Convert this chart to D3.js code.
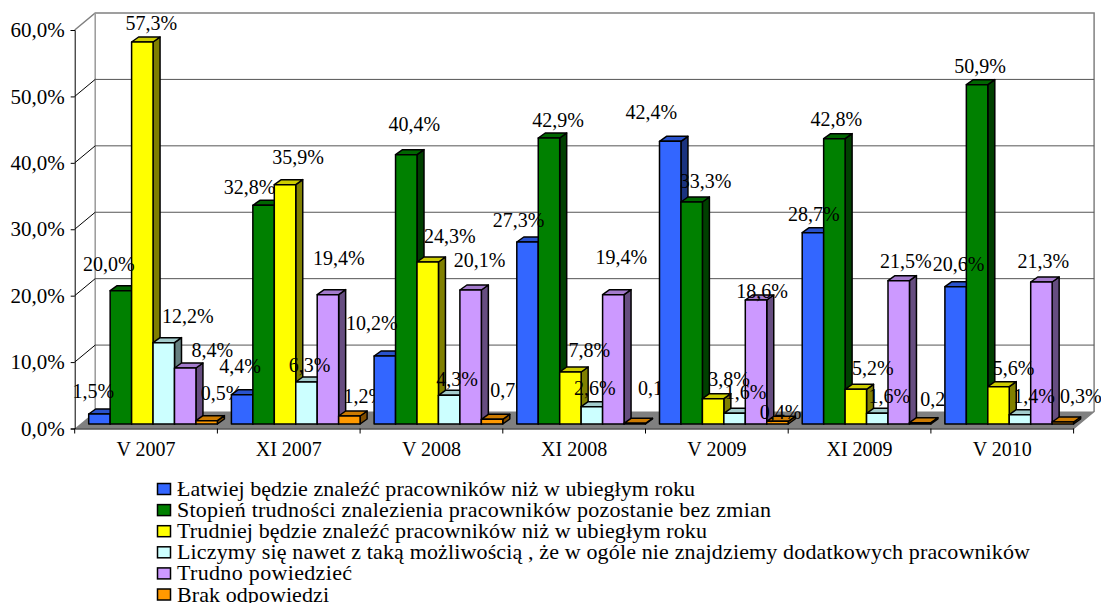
<!DOCTYPE html>
<html>
<head>
<meta charset="utf-8">
<script src="https://cdn.jsdelivr.net/npm/d3@7"></script>
<style>
  html, body { margin: 0; padding: 0; background: #fff; overflow: hidden; }
  text { font-family: "Liberation Serif", serif; fill: #000; }
</style>
</head>
<body>
<div id="chart"></div>
<script>
const categories = ['V 2007', 'XI 2007', 'V 2008', 'XI 2008', 'V 2009', 'XI 2009', 'V 2010'];
const seriesNames = [
  'Łatwiej będzie znaleźć pracowników niż w ubiegłym roku',
  'Stopień trudności znalezienia pracowników pozostanie bez zmian',
  'Trudniej będzie znaleźć pracowników niż w ubiegłym roku',
  'Liczymy się nawet z taką możliwością , że w ogóle nie znajdziemy dodatkowych pracowników',
  'Trudno powiedzieć',
  'Brak odpowiedzi'
];
const latwiej = [1.5, 4.4, 10.2, 27.3, 42.4, 28.7, 20.6];
const bezZmian = [20.0, 32.8, 40.4, 42.9, 33.3, 42.8, 50.9];
const trudniej = [57.3, 35.9, 24.3, 7.8, 3.8, 5.2, 5.6];
const nieZnajdziemy = [12.2, 6.3, 4.3, 2.6, 1.6, 1.6, 1.4];
const trudnoPowiedziec = [8.4, 19.4, 20.1, 19.4, 18.6, 21.5, 21.3];
const brak = [0.5, 1.2, 0.7, 0.1, 0.4, 0.2, 0.3];
const seriesValues = [latwiej, bezZmian, trudniej, nieZnajdziemy, trudnoPowiedziec, brak];
const yTicks = [0, 10, 20, 30, 40, 50, 60];

const colors = ['#3366ff', '#008000', '#ffff00', '#ccffff', '#cc99ff', '#ff9900'];

// etykiety byly recznie poprzesuwane na oryginale: [dx, dy] wzgledem wierzcholka slupka, wiersz = kategoria
const labelNudge = [
  [[-6, -16], [-12, -20], [9, -12], [24, -20], [27, -11], [15, -21]],
  [[-2, -22], [-14, -11], [13, -21], [3, -10], [11, -30], [15, -13]],
  [[-13, -26], [8, -24], [22, -19], [8, -9], [9, -23], [19, -22]],
  [[-9, -15], [9, -11], [19, -15], [3, -12], [8, -31], [24, -28]],
  [[-19, -22], [14, -14], [16, -13], [11, -14], [6, -2], [3, -2]],
  [[1, -12], [2, -13], [17, -14], [12, -10], [7, -13], [21, -17]],
  [[3, -16], [3, -12], [15, -12], [14, -12], [2, -14], [18, -19]]
];
// szerokosci wierszy legendy w px (oryginal ma inne odstepy miedzy literami)
const legendWidths = [518, 594, 530, 853, 175, 152];

const width = 1101, height = 603;
const left = 74.7, right = 1073.6;
const depthX = 20.5, depthY = 17;   // glebokosc podlogi
const barDX = 7, barDY = 5;         // glebokosc slupka
const fmt = v => v.toFixed(1).replace('.', ',') + '%';

const svg = d3.select('#chart').append('svg')
  .attr('width', width)
  .attr('height', height)
  .style('display', 'block');

const x0 = d3.scaleBand().domain(categories).range([left, right]);
const x1 = d3.scaleBand().domain(d3.range(seriesNames.length)).range([14, x0.bandwidth()]);
const y = d3.scaleLinear().domain([0, 60]).range([428.5, 30]);
const yBar = d3.scaleLinear().domain([0, 60]).range([424, 24]);

// --- podloga i sciany ---
const y0 = y(0), yTop = y(60);
svg.append('path')
  .attr('d', `M${left},${y0}L${left + depthX},${y0 - depthY}H${right + depthX}L${right},${y0}Z`)
  .attr('fill', '#808080');
svg.append('path')
  .attr('d', `M${left},${yTop}L${left + depthX},${yTop - depthY}H${right + depthX}V${y0 - depthY}L${right},${y0}`)
  .attr('fill', 'none')
  .attr('stroke', '#808080')
  .attr('stroke-width', 1.5);
svg.append('line')
  .attr('x1', left + depthX).attr('x2', left + depthX)
  .attr('y1', yTop - depthY).attr('y2', y0 - depthY)
  .attr('stroke', '#999')
  .attr('stroke-width', 1.5);

// --- siatka ---
const grid = svg.append('g');
grid.selectAll('line.back')
  .data(yTicks.filter(t => t > 0 && t < 60))
  .join('line')
  .attr('class', 'back')
  .attr('x1', left + depthX).attr('x2', right + depthX)
  .attr('y1', d => y(d) - depthY).attr('y2', d => y(d) - depthY)
  .attr('stroke', '#555')
  .attr('stroke-width', 1);
grid.selectAll('line.side')
  .data(yTicks.filter(t => t > 0 && t < 60))
  .join('line')
  .attr('class', 'side')
  .attr('x1', left).attr('x2', left + depthX)
  .attr('y1', d => y(d)).attr('y2', d => y(d) - depthY)
  .attr('stroke', '#000')
  .attr('stroke-width', 1);

// --- os Y ---
const yAxis = svg.append('g')
  .attr('transform', `translate(${left},0)`)
  .call(d3.axisLeft(y).tickValues(yTicks).tickFormat(fmt).tickSize(4).tickPadding(6));
yAxis.selectAll('path, line').attr('stroke', '#000').attr('stroke-width', 1);
yAxis.selectAll('text').attr('font-size', 21);

// --- os X ---
const xAxis = svg.append('g')
  .attr('transform', `translate(0,${y0})`)
  .call(d3.axisBottom(x0).tickSize(0).tickPadding(13));
xAxis.select('.domain').attr('stroke', '#000').attr('stroke-width', 1);
xAxis.selectAll('text').attr('font-size', 20);
xAxis.selectAll('line.edge')
  .data(categories.concat(['']))
  .join('line')
  .attr('class', 'edge')
  .attr('x1', (d, i) => left + i * x0.bandwidth())
  .attr('x2', (d, i) => left + i * x0.bandwidth())
  .attr('y1', 0).attr('y2', 5)
  .attr('stroke', '#000');

// --- slupki, kategoria po kategorii: kolejna kategoria przykrywa etykiety poprzedniej ---
categories.forEach((cat, c) => {
  const g = svg.append('g').attr('transform', `translate(${x0(cat)},0)`);
  const rows = seriesValues.map((vals, s) => ({ s, v: vals[c] }));
  const w = x1.bandwidth();

  const bars = g.selectAll('g.bar').data(rows).join('g').attr('class', 'bar')
    .attr('stroke', '#000').attr('stroke-width', 1.5).attr('stroke-linejoin', 'round');
  // bok
  bars.append('path')
    .attr('fill', d => { const k = d3.rgb(colors[d.s]); return d3.rgb(k.r * 0.5, k.g * 0.5, k.b * 0.5); })
    .attr('d', d => {
      const xr = x1(d.s) + w, t = yBar(d.v), b = yBar(0);
      return `M${xr},${t}l${barDX},${-barDY}V${b - barDY}L${xr},${b}Z`;
    });
  // wierzch
  bars.append('path')
    .attr('fill', d => { const k = d3.rgb(colors[d.s]); return d3.rgb(k.r * 0.8, k.g * 0.8, k.b * 0.8); })
    .attr('d', d => {
      const xl = x1(d.s), t = yBar(d.v);
      return `M${xl},${t}l${barDX},${-barDY}h${w}l${-barDX},${barDY}Z`;
    });
  // przod
  bars.append('rect')
    .attr('x', d => x1(d.s))
    .attr('y', d => yBar(d.v))
    .attr('width', w)
    .attr('height', d => yBar(0) - yBar(d.v))
    .attr('fill', d => colors[d.s]);

  g.selectAll('text.val').data(rows).join('text')
    .attr('class', 'val')
    .attr('text-anchor', 'middle')
    .attr('font-size', 20)
    .attr('x', d => x1(d.s) + w / 2 + labelNudge[c][d.s][0])
    .attr('y', d => yBar(d.v) + labelNudge[c][d.s][1])
    .text(d => fmt(d.v));
});

// --- legenda ---
const legendY = d3.scaleLinear().domain([0, 5]).range([489, 594.5]);
const legend = svg.append('g').selectAll('g').data(seriesNames).join('g')
  .attr('transform', (d, i) => `translate(157,${legendY(i)})`);
legend.append('rect')
  .attr('x', 0.5).attr('y', -5.5)
  .attr('width', 13).attr('height', 11)
  .attr('fill', (d, i) => colors[i])
  .attr('stroke', '#000')
  .attr('stroke-width', 1.5);
legend.append('text')
  .attr('x', 20).attr('y', 7)
  .attr('font-size', 22)
  .attr('textLength', (d, i) => legendWidths[i])
  .attr('lengthAdjust', 'spacing')
  .text(d => d);
</script>
</body>
</html>
